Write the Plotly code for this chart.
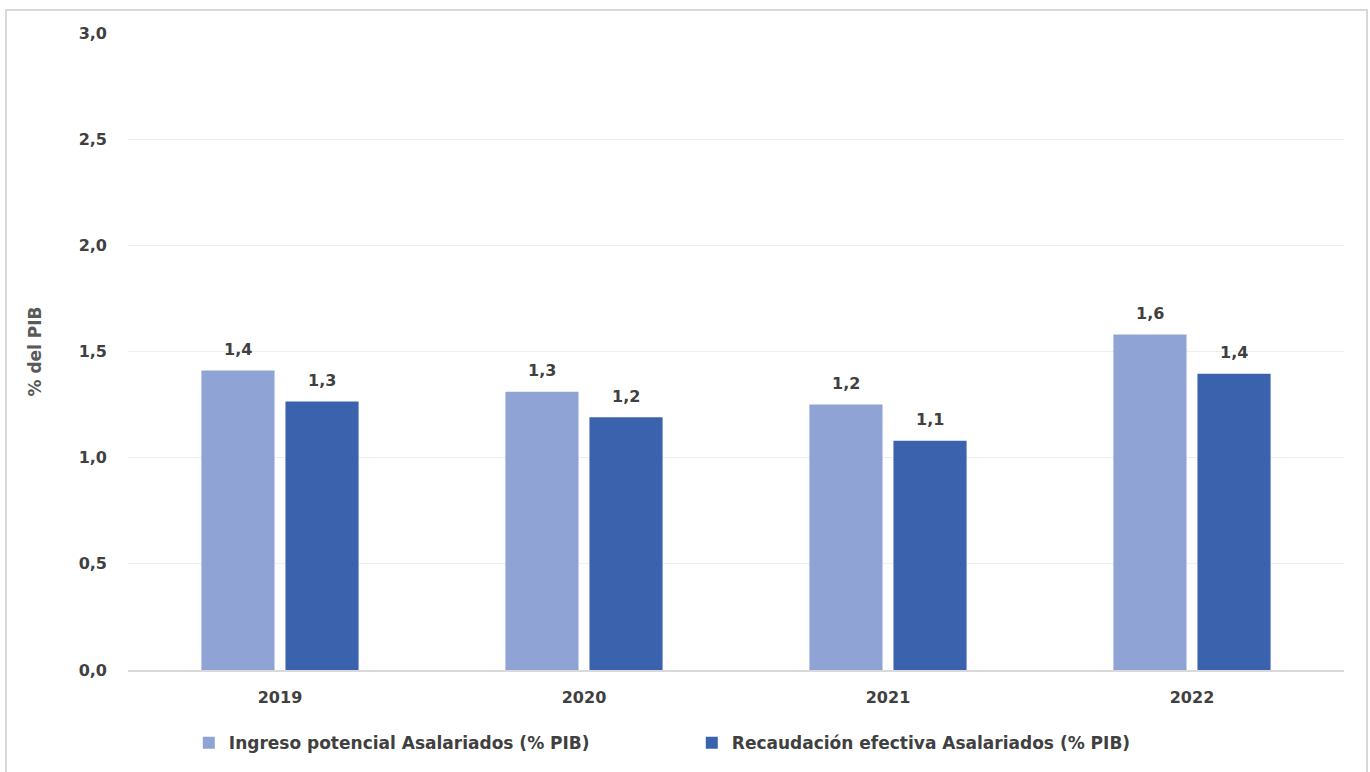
import plotly.graph_objects as go

years = ["2019", "2020", "2021", "2022"]
ingreso = [1.41, 1.31, 1.25, 1.58]
recaudacion = [1.265, 1.19, 1.08, 1.395]
name_ing = "Ingreso potencial Asalariados (% PIB)"
name_rec = "Recaudación efectiva Asalariados (% PIB)"
yticks = [0, 0.5, 1.0, 1.5, 2.0, 2.5, 3.0]
ytick_labels = ["0,0", "0,5", "1,0", "1,5", "2,0", "2,5", "3,0"]

c_light = "#8FA4D4"
c_dark = "#3B63AD"
txt = "#404040"
FONT = "DejaVu Sans"

fig = go.Figure()
fig.add_trace(go.Bar(x=years, y=ingreso, name=name_ing, marker_color=c_light,
                     marker_line_width=0))
fig.add_trace(go.Bar(x=years, y=recaudacion, name=name_rec, marker_color=c_dark,
                     marker_line_width=0))

ann = []
for i, yr in enumerate(years):
    for vals, shift in ((ingreso, -42), (recaudacion, 42)):
        v = vals[i]
        ann.append(dict(x=i, y=v, xref="x", yref="y", xshift=shift, yshift=21,
                        text=f"{v:.1f}".replace(".", ","), showarrow=False,
                        font=dict(family=FONT, size=16, color=txt, weight="bold")))

W, H = 1370, 772
L, R, T, B = 128, 26, 33, 101
pw, ph = W - L - R, H - T - B

fig.update_layout(
    width=W, height=H,
    margin=dict(l=L, r=R, t=T, b=B),
    paper_bgcolor="white", plot_bgcolor="white",
    barmode="group", bargap=0.447, bargroupgap=0.13,
    font=dict(family=FONT, color=txt),
    annotations=ann,
    legend=dict(orientation="h", x=0.05, y=-0.085, xanchor="left", yanchor="top",
                font=dict(family=FONT, size=17, color=txt, weight="bold"),
                itemwidth=30, entrywidth=458, traceorder="normal"),
    shapes=[dict(type="rect", xref="paper", yref="paper",
                 x0=(6 - L) / pw, x1=(1367 - L) / pw,
                 y0=(H - B - 790) / ph, y1=(H - B - 10) / ph,
                 line=dict(color="#D9D9D9", width=2), fillcolor="rgba(0,0,0,0)",
                 layer="below")],
)
fig.update_xaxes(type="category", range=[-0.5, 3.5], showgrid=False, showline=True,
                 linecolor="#D9D9D9", linewidth=2, ticks="", ticklabelstandoff=12,
                 tickfont=dict(family=FONT, size=16, color=txt, weight="bold"))
fig.update_yaxes(range=[0, 3.0], tickvals=yticks, ticktext=ytick_labels,
                 showgrid=True, gridcolor="#EFEFEF", gridwidth=1, zeroline=False,
                 showline=False, ticks="", ticklabelstandoff=20,
                 tickfont=dict(family=FONT, size=16, color=txt, weight="bold"),
                 title=dict(text="% del PIB", standoff=32,
                            font=dict(family=FONT, size=17, color="#595959", weight="bold")))

fig.write_html("out.html")
